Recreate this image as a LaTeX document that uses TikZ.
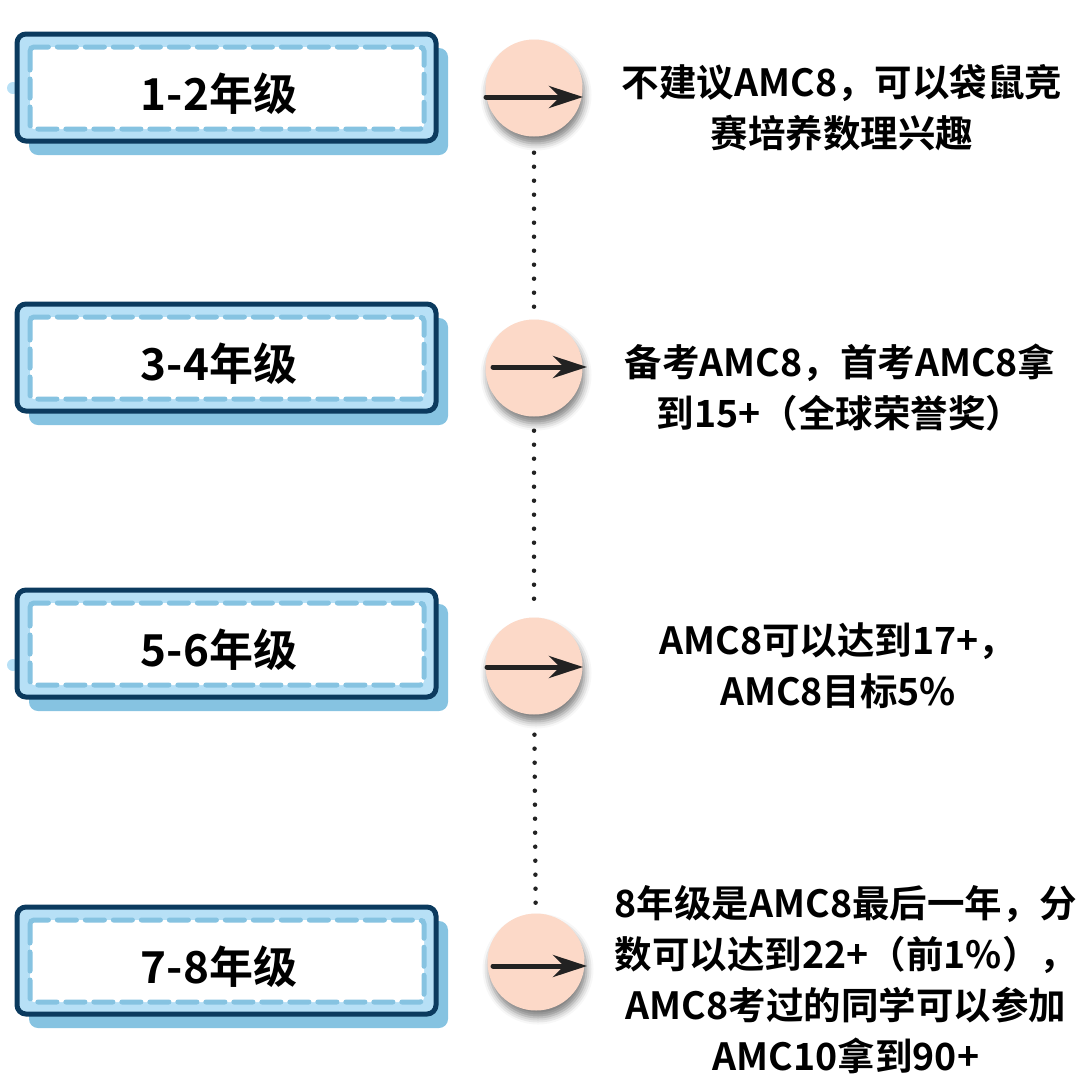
\documentclass[tikz,border=0pt]{standalone}
\usepackage{fontspec}
\newfontfamily\cjk{Noto Sans CJK SC}[BoldFont={Noto Sans CJK SC Bold}]
\usetikzlibrary{arrows.meta,shadows.blur,calc}
\definecolor{navy}{HTML}{0B3A5E}
\definecolor{lblue}{HTML}{B7E0F6}
\definecolor{mblue}{HTML}{86C3E1}
\definecolor{peach}{HTML}{FCD9C8}
\definecolor{ink}{HTML}{222222}
\tikzset{
  shadowbox/.style={fill=mblue,rounded corners=9pt},
  outerbox/.style={fill=lblue,draw=navy,line width=5pt,rounded corners=9pt},
  innerbox/.style={fill=white,draw=mblue,line width=5pt,dash pattern=on 19pt off 9pt,line cap=round,rounded corners=4pt},
  gradelabel/.style={font=\cjk\bfseries\fontsize{44}{48}\selectfont,text=black},
  dot/.style={circle,fill=lblue,minimum size=12pt,inner sep=0pt},
  disc/.style={circle,fill=peach,minimum size=97pt,inner sep=0pt,
    blur shadow={shadow xshift=2pt,shadow yshift=-7pt,shadow blur radius=7pt,shadow opacity=50}},
  arrowline/.style={draw=ink,line width=5pt,line cap=round,-{Stealth[length=34pt,width=22pt,inset=11pt]}},
  dotline/.style={draw=ink,line width=4.5pt,line cap=round,dash pattern=on 0pt off 14pt},
  desc/.style={font=\cjk\bfseries\fontsize{37.5}{51}\selectfont,text=black,align=center}
}
\begin{document}
\begin{tikzpicture}[x=1pt,y=-1pt]
\useasboundingbox (0,0) rectangle (1080,1077);
% small blobs
\node[dot] (s1) at (13,88) {};
\node[dot] (s3) at (13,665) {};
% boxes
\foreach \t/\lab/\n in {34/1-2年级/1,304/3-4年级/2,590/5-6年级/3,907/7-8年级/4}{
  \fill[shadowbox] (29,\t+14) rectangle (448,\t+121);
  \draw[outerbox] (17,\t) rectangle (436,\t+107);
  \draw[innerbox] (30,\t+13) rectangle (424,\t+95);
  \node[gradelabel] (b\n) at (219,\t+60) {\lab};
}
% circles
\node[disc] (c1) at (534,88) {};
\node[disc] (c2) at (534,368) {};
\node[disc] (c3) at (534,666) {};
\node[disc] (c4) at (536,962) {};
% dotted connectors
\draw[dotline,shorten <=16pt,shorten >=8pt] (c1) -- (c2);
\draw[dotline,shorten <=14pt,shorten >=10pt] (c2) -- (c3);
\draw[dotline,shorten <=20pt,shorten >=10pt] (c3) -- (c4);
% arrows
\draw[arrowline] ($(c1.center)+(-48,9)$) -- ($(c1.center)+(49,9)$);
\draw[arrowline] ($(c2.center)+(-41,-1)$) -- ($(c2.center)+(53,-1)$);
\draw[arrowline] ($(c3.center)+(-47,1)$) -- ($(c3.center)+(49,1)$);
\draw[arrowline] ($(c4.center)+(-43,4)$) -- ($(c4.center)+(51,4)$);
% descriptions
\node[desc] (t1) at (842,107.5) {不建议AMC8，可以袋鼠竞\\赛培养数理兴趣};
\node[desc] (t2) at (840,387.5) {备考AMC8，首考AMC8拿\\到15+（全球荣誉奖）};
\node[desc] (t3) at (838,666) {AMC8可以达到17+，\\AMC8目标5\%};
\node[desc] (t4) at (846,980) {8年级是AMC8最后一年，分\\数可以达到22+（前1\%），\\AMC8考过的同学可以参加\\AMC10拿到90+};
\end{tikzpicture}
\end{document}
